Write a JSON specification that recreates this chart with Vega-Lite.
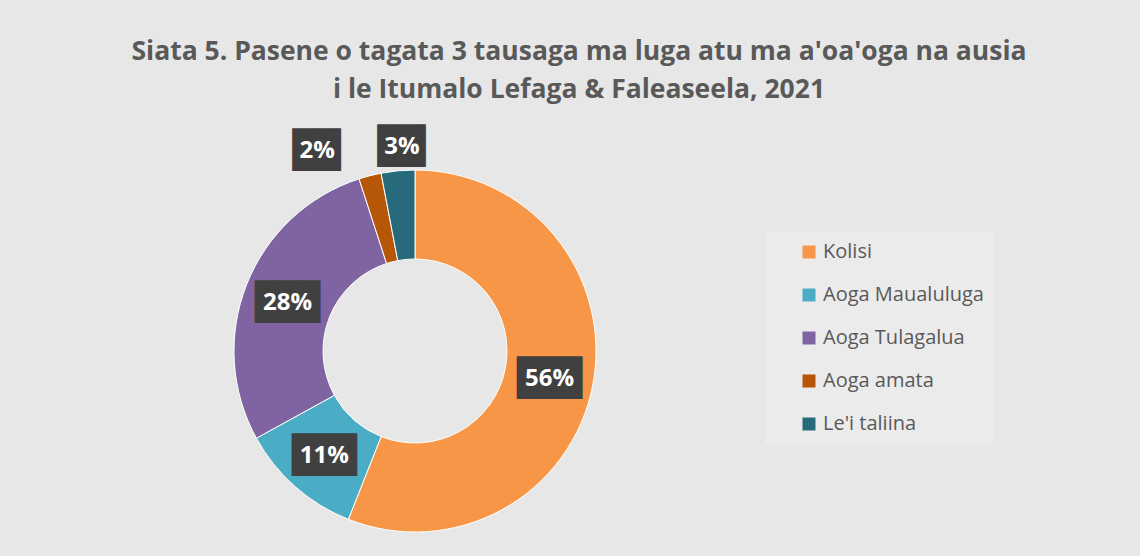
{
  "$schema": "https://vega.github.io/schema/vega-lite/v6.json",
  "width": 830,
  "height": 410,
  "autosize": {"type": "none"},
  "padding": {"top": 146, "left": 0, "right": 310, "bottom": 0},
  "background": "#e7e7e7",
  "title": {
    "text": ["Siata 5. Pasene o tagata 3 tausaga ma luga atu ma a'oa'oga na ausia", "i le Itumalo Lefaga & Faleaseela, 2021"],
    "font": "Open Sans",
    "fontSize": 26.5,
    "fontWeight": "bold",
    "color": "#595959",
    "lineHeight": 38,
    "anchor": "middle",
    "dx": 164,
    "offset": 26
  },
  "config": {"view": {"stroke": null}},
  "data": {
    "values": [
      {"category": "Kolisi", "value": 0.56, "rank": 1},
      {"category": "Aoga Maualuluga", "value": 0.11, "rank": 2},
      {"category": "Aoga Tulagalua", "value": 0.28, "rank": 3},
      {"category": "Aoga amata", "value": 0.02, "rank": 4},
      {"category": "Le'i taliina", "value": 0.03, "rank": 5}
    ]
  },
  "encoding": {
    "theta": {"field": "value", "type": "quantitative", "stack": true},
    "order": {"field": "rank", "type": "quantitative"}
  },
  "layer": [
    {
      "mark": {"type": "arc", "outerRadius": 181, "innerRadius": 92, "stroke": "#ffffff", "strokeWidth": 1},
      "encoding": {
        "color": {
          "field": "category",
          "type": "nominal",
          "sort": ["Kolisi", "Aoga Maualuluga", "Aoga Tulagalua", "Aoga amata", "Le'i taliina"],
          "scale": {
            "domain": ["Kolisi", "Aoga Maualuluga", "Aoga Tulagalua", "Aoga amata", "Le'i taliina"],
            "range": ["#F79646", "#4BACC6", "#8064A2", "#B65708", "#276A7C"]
          },
          "legend": {
            "title": null,
            "orient": "none",
            "legendX": 765,
            "legendY": 86,
            "fillColor": "#ebebeb",
            "padding": 10,
            "symbolOffset": 24,
            "symbolType": "square",
            "symbolSize": 169,
            "symbolStrokeWidth": 0,
            "labelFont": "Open Sans",
            "labelFontSize": 20,
            "labelLimit": 400,
            "labelColor": "#595959",
            "labelOffset": 4,
            "rowPadding": 23
          }
        }
      }
    },
    {
      "transform": [{"filter": "datum.value >= 0.1"}],
      "mark": {"type": "text", "radius": 137, "font": "DejaVu Sans Mono", "fontSize": 36, "color": "#404040", "baseline": "middle", "align": "center", "dy": 2},
      "encoding": {"text": {"value": "███"}}
    },
    {
      "transform": [{"filter": "datum.value >= 0.1"}],
      "mark": {"type": "text", "radius": 137, "font": "Open Sans", "fontSize": 24, "fontWeight": "bold", "color": "#ffffff", "baseline": "middle", "align": "center", "dy": 2},
      "encoding": {"text": {"field": "value", "type": "quantitative", "format": ".0%"}}
    },
    {
      "transform": [{"filter": "datum.category == 'Aoga amata'"}],
      "mark": {"type": "text", "radius": 225, "thetaOffset": -0.513, "font": "DejaVu Sans Mono", "fontSize": 36, "color": "#404040", "baseline": "middle", "align": "center", "dx": 8, "dy": 3},
      "encoding": {"text": {"value": "██▎"}}
    },
    {
      "transform": [{"filter": "datum.category == 'Aoga amata'"}],
      "mark": {"type": "text", "radius": 225, "thetaOffset": -0.513, "font": "Open Sans", "fontSize": 24, "fontWeight": "bold", "color": "#ffffff", "baseline": "middle", "align": "center", "dy": 3},
      "encoding": {"text": {"field": "value", "type": "quantitative", "format": ".0%"}}
    },
    {
      "transform": [{"filter": "datum.category == \"Le'i taliina\""}],
      "mark": {"type": "text", "radius": 207, "thetaOffset": -0.157, "font": "DejaVu Sans Mono", "fontSize": 36, "color": "#404040", "baseline": "middle", "align": "center", "dx": 8, "dy": 3},
      "encoding": {"text": {"value": "██▎"}}
    },
    {
      "transform": [{"filter": "datum.category == \"Le'i taliina\""}],
      "mark": {"type": "text", "radius": 207, "thetaOffset": -0.157, "font": "Open Sans", "fontSize": 24, "fontWeight": "bold", "color": "#ffffff", "baseline": "middle", "align": "center", "dy": 3},
      "encoding": {"text": {"field": "value", "type": "quantitative", "format": ".0%"}}
    }
  ]
}
